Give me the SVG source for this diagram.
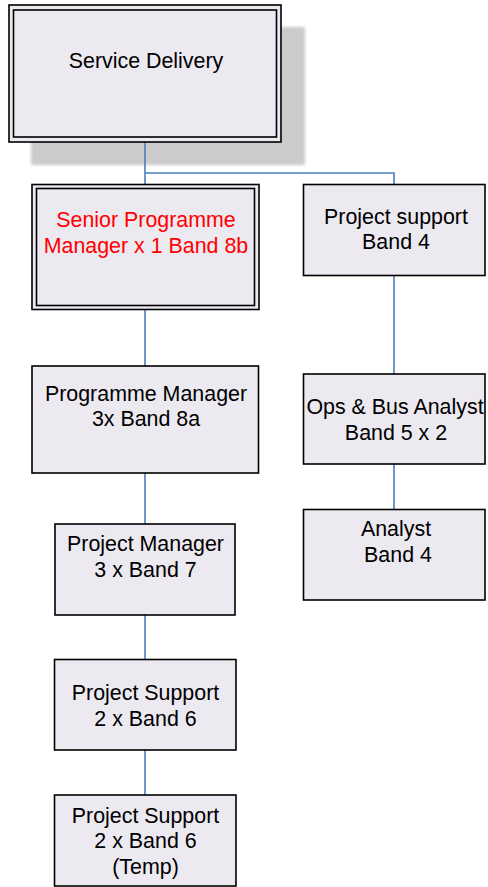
<svg xmlns="http://www.w3.org/2000/svg" width="488" height="887" viewBox="0 0 488 887">
<defs>
<filter id="blur" x="-10%" y="-10%" width="120%" height="120%"><feGaussianBlur stdDeviation="1.5"/></filter>
</defs>
<style>
.box{fill:#ece9f0;stroke:#000;stroke-width:1.6}
.inner{fill:none;stroke:#000;stroke-width:1.6}
.lbl{font-family:"Liberation Sans",Arial,sans-serif;font-size:21.4px;fill:#000;text-anchor:middle}
.red{fill:#ff0000}
.conn{fill:none;stroke:#4a7ebb;stroke-width:1.6}
</style>
<rect x="31" y="27" width="274" height="138" fill="#cbcbcb" filter="url(#blur)"/>
<g id="connectors">
<path class="conn" d="M145,142 V184"/>
<path class="conn" d="M145,173 H394 V184"/>
<path class="conn" d="M145,309 V366"/>
<path class="conn" d="M145,473 V524"/>
<path class="conn" d="M145,615 V659"/>
<path class="conn" d="M145,750 V795"/>
<path class="conn" d="M394,276 V374"/>
<path class="conn" d="M394,464 V509"/>
</g>
<g id="service-delivery">
<rect class="box" x="9" y="5" width="272" height="137"/>
<rect class="inner" x="13.5" y="10" width="263" height="127"/>
<text class="lbl" x="146" y="68">Service Delivery</text>
</g>
<g id="senior-programme-manager">
<rect class="box" x="32" y="184.5" width="227" height="125"/>
<rect class="inner" x="36.5" y="188.5" width="218" height="117"/>
<text class="lbl red" x="146" y="227">Senior Programme</text>
<text class="lbl red" x="146" y="253">Manager x 1 Band 8b</text>
</g>
<g id="project-support-band4">
<rect class="box" x="303.5" y="184.5" width="181.5" height="91"/>
<text class="lbl" x="396" y="224">Project support</text>
<text class="lbl" x="396" y="249">Band 4</text>
</g>
<g id="ops-bus-analyst">
<rect class="box" x="303.5" y="374" width="181.5" height="90"/>
<text class="lbl" x="395" y="414">Ops &amp; Bus Analyst</text>
<text class="lbl" x="396" y="440">Band 5 x 2</text>
</g>
<g id="analyst">
<rect class="box" x="303.5" y="509.5" width="181.5" height="90.5"/>
<text class="lbl" x="396" y="536">Analyst</text>
<text class="lbl" x="398" y="562">Band 4</text>
</g>
<g id="programme-manager">
<rect class="box" x="32" y="366" width="226.5" height="107"/>
<text class="lbl" x="146" y="401">Programme Manager</text>
<text class="lbl" x="146" y="426">3x Band 8a</text>
</g>
<g id="project-manager">
<rect class="box" x="55" y="524" width="180" height="91"/>
<text class="lbl" x="145.5" y="551">Project Manager</text>
<text class="lbl" x="145.5" y="577">3 x Band 7</text>
</g>
<g id="project-support-band6">
<rect class="box" x="54.5" y="659.5" width="181.5" height="90.5"/>
<text class="lbl" x="145.5" y="700">Project Support</text>
<text class="lbl" x="145.5" y="726">2 x Band 6</text>
</g>
<g id="project-support-temp">
<rect class="box" x="54.5" y="795" width="181.5" height="91"/>
<text class="lbl" x="145.5" y="823">Project Support</text>
<text class="lbl" x="145.5" y="848">2 x Band 6</text>
<text class="lbl" x="145.5" y="874">(Temp)</text>
</g>
</svg>
